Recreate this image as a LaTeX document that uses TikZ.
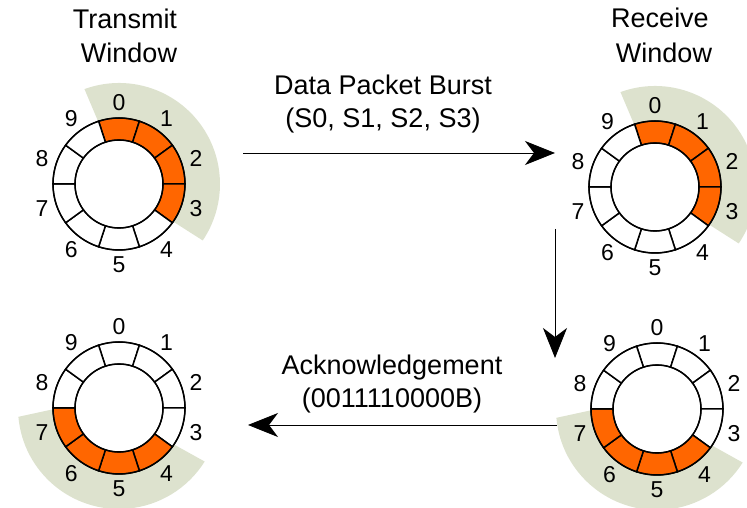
\documentclass[tikz,border=0pt]{standalone}
\usepackage{fontspec}
\setmainfont{Liberation Sans}
\usetikzlibrary{arrows.meta}

\definecolor{slotorange}{RGB}{255,102,0}
\definecolor{winshade}{RGB}{221,226,206}

\tikzset{
  segline/.style={draw=black, line width=1.5pt},
  ringline/.style={draw=black, line width=1.2pt},
  digit/.style={font=\fontsize{23}{27}\selectfont, inner sep=0pt},
  title/.style={font=\fontsize{27}{33}\selectfont, inner sep=0pt, anchor=base},
  flow/.style={draw=black, line width=0.9pt,
    -{Stealth[length=30pt, width=24pt, inset=9pt]}},
}

% one sliding-window ring: #1 name, #2 centre, #3 list of slot/colour pairs
\newcommand\windowring[3]{%
  \begin{scope}[shift={#2}]
    \coordinate (#1) at (0,0);
    \foreach \i/\c in {#3} {
      \pgfmathsetmacro\a{108-36*\i}
      \pgfmathsetmacro\b{72-36*\i}
      \filldraw[fill=\c, segline] (\a:44pt) -- (\a:66pt)
        arc[start angle=\a, end angle=\b, radius=66pt] -- (\b:44pt)
        arc[start angle=\b, end angle=\a, radius=44pt] -- cycle;
      \node[digit] (#1-\i) at ({90-36*\i}:81pt) {\i};
    }
    \draw[ringline] (0,0) circle[radius=66pt];
    \draw[ringline] (0,0) circle[radius=44pt];
  \end{scope}}

% shaded band behind a ring: #1 centre, inner/outer start angle, inner/outer end angle
\newcommand\windowband[5]{%
  \begin{scope}[shift={#1}]
    \fill[winshade] (#2:60pt) -- (#3:101pt)
      arc[start angle=#3, end angle=#5, radius=101pt] -- (#4:60pt)
      arc[start angle=#4, end angle=#2, radius=60pt] -- cycle;
  \end{scope}}

\begin{document}
\begin{tikzpicture}[x=1pt, y=1pt]
  \useasboundingbox (0,0) rectangle (747,508);

  % titles
  \node[title] (tx1) at (125,479) {Transmit};
  \node[title] (tx2) at (129,445) {Window};
  \node[title] (rx1) at (660,480) {Receive};
  \node[title] (rx2) at (664,445) {Window};

  % shaded windows
  \windowband{(119,324)}{108}{110}{-35}{-34}
  \windowband{(655,321)}{108}{110}{-35}{-34}
  \windowband{(119,100)}{180}{185}{326}{328}
  \windowband{(657,99)}{180}{185}{326}{328}

  % rings
  \windowring{txa}{(119,324)}{0/slotorange,1/slotorange,2/slotorange,3/slotorange,4/white,5/white,6/white,7/white,8/white,9/white}
  \windowring{rxa}{(655,321)}{0/slotorange,1/slotorange,2/slotorange,3/slotorange,4/white,5/white,6/white,7/white,8/white,9/white}
  \windowring{txb}{(119,100)}{0/white,1/white,2/white,3/white,4/slotorange,5/slotorange,6/slotorange,7/slotorange,8/white,9/white}
  \windowring{rxb}{(657,99)}{0/white,1/white,2/white,3/white,4/slotorange,5/slotorange,6/slotorange,7/slotorange,8/white,9/white}

  % connector labels
  \node[title] (burst1) at (383,413) {Data Packet Burst};
  \node[title] (burst2) at (383,380) {(S0, S1, S2, S3)};
  \node[title] (ack1) at (392,133) {Acknowledgement};
  \node[title] (ack2) at (392,100) {(0011110000B)};

  % connector ends
  \coordinate (sendA) at (243,355);
  \coordinate (sendB) at (555,355);
  \coordinate (procA) at (555,279);
  \coordinate (procB) at (555,150);
  \coordinate (ackA)  at (557,83);
  \coordinate (ackB)  at (248,83);

  \draw[flow] (sendA) -- (sendB);
  \draw[flow] (procA) -- (procB);
  \draw[flow] (ackA) -- (ackB);
\end{tikzpicture}
\end{document}
